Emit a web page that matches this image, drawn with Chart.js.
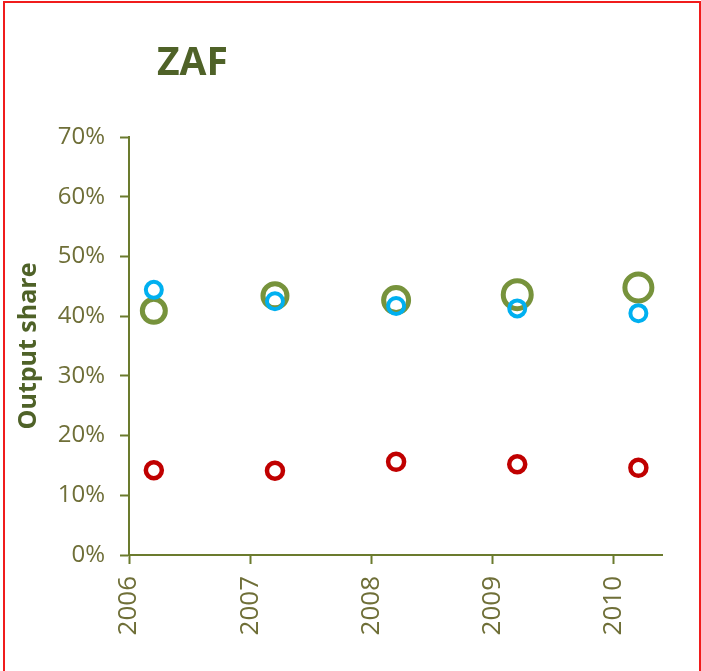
<!DOCTYPE html>
<html>
<head>
<meta charset="utf-8">
<script src="https://cdn.jsdelivr.net/npm/chart.js@4/dist/chart.umd.min.js"></script>
<style>
  html, body { margin: 0; padding: 0; background: #fff; }
  #wrap { position: relative; width: 701px; height: 671px; overflow: hidden; }
  #chart { position: absolute; left: 0; top: 0; }
  #frame {
    position: absolute; left: 3px; top: 1px; width: 698px; height: 720px;
    box-sizing: border-box; border: 2px solid #f01c1c; pointer-events: none;
  }
  #title {
    position: absolute; left: 157px; top: 40px; margin: 0;
    font: bold 39px "Open Sans", sans-serif; line-height: 1; color: #4f6228;
  }
</style>
</head>
<body>
<div id="wrap">
  <canvas id="chart" width="701" height="671"></canvas>
  <div id="title">ZAF</div>
  <div id="frame"></div>
</div>
<script>
// --- data ---
const years = [2006, 2007, 2008, 2009, 2010];
const yearOffset = 0.205; // points sit a little right of each year tick
const blueShare = [44.4, 42.5, 41.7, 41.3, 40.5];
const greenShare = [40.9, 43.4, 42.7, 43.6, 44.8];
const redShare = [14.2, 14.1, 15.6, 15.2, 14.6];
const greenSize = [11.5, 12, 12.5, 14, 13.5];
const yTicks = [0, 10, 20, 30, 40, 50, 60, 70];

const olive = "#6b7b2e";
const labelColor = "#6f6f38";

function toPoints(vals) {
  return vals.map((v, i) => ({ x: years[i] + yearOffset, y: v }));
}

const ctx = document.getElementById("chart").getContext("2d");

new Chart(ctx, {
  type: "scatter",
  data: {
    datasets: [
      {
        label: "blue",
        data: toPoints(blueShare),
        borderColor: "#00b0f0",
        backgroundColor: "transparent",
        borderWidth: 4,
        pointRadius: 8,
      },
      {
        label: "red",
        data: toPoints(redShare),
        borderColor: "#c00000",
        backgroundColor: "transparent",
        borderWidth: 4.5,
        pointRadius: 8,
      },
      {
        label: "green",
        data: toPoints(greenShare),
        borderColor: "#77933c",
        backgroundColor: "transparent",
        borderWidth: 5,
        pointRadius: greenSize,
      },
    ],
  },
  options: {
    responsive: false,
    animation: false,
    layout: { padding: { top: 137, right: 39, bottom: 0, left: 0 } },
    plugins: {
      legend: { display: false },
      tooltip: { enabled: false },
    },
    scales: {
      x: {
        type: "linear",
        min: years[0],
        max: years[years.length - 1] + 0.4,
        afterBuildTicks: (s) => {
          s.ticks = years.map((v) => ({ value: v }));
        },
        afterFit: (s) => {
          s.height = 116;
        },
        border: { color: olive, width: 2 },
        grid: { drawOnChartArea: false, tickLength: 9, tickColor: olive, tickWidth: 2 },
        ticks: {
          color: labelColor,
          font: { family: "Open Sans", size: 26 },
          minRotation: 90,
          maxRotation: 90,
          padding: 12,
          callback: (v) => String(v),
        },
      },
      y: {
        min: yTicks[0],
        max: yTicks[yTicks.length - 1],
        afterBuildTicks: (s) => {
          s.ticks = yTicks.map((v) => ({ value: v }));
        },
        afterFit: (s) => {
          s.width = 129;
        },
        border: { color: olive, width: 2 },
        grid: { drawOnChartArea: false, tickLength: 9, tickColor: olive, tickWidth: 2 },
        ticks: {
          color: labelColor,
          font: { family: "Open Sans", size: 24 },
          padding: 15,
          callback: (v) => v + "%",
        },
        title: {
          display: true,
          text: "Output share",
          color: "#4f6228",
          font: { family: "Open Sans", size: 25, weight: "bold" },
          padding: { top: 14, bottom: 0 },
        },
      },
    },
  },
});
</script>
</body>
</html>
